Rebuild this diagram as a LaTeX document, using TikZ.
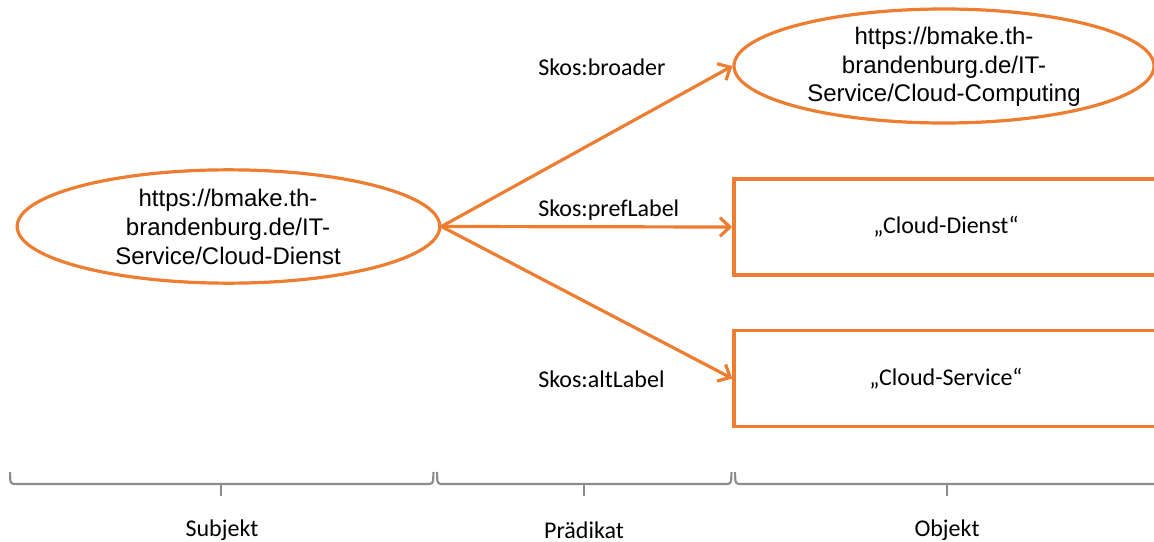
\documentclass[tikz,border=0pt]{standalone}
\usepackage{fontspec}
\setmainfont{Carlito}
\newfontfamily\arialfont{Liberation Sans}
\usetikzlibrary{shapes.geometric,arrows.meta}
\definecolor{orng}{HTML}{ED7D31}
\definecolor{brgray}{HTML}{8C8C8C}
\begin{document}
\begin{tikzpicture}[x=0.75pt,y=-0.75pt,
  res/.style={draw=orng,line width=2.4pt,ellipse,inner sep=0pt},
  lit/.style={draw=orng,line width=2.6pt,rectangle,inner sep=0pt,minimum width=318pt,minimum height=72pt,font=\fontsize{18}{21}\selectfont},
  urltext/.style={align=center,font=\arialfont\fontsize{18}{21.5}\selectfont,inner sep=0pt},
  pred/.style={anchor=west,font=\fontsize{18}{21}\selectfont,inner sep=0pt},
  conn/.style={draw=orng,line width=2.4pt,-{Straight Barb[length=7.5pt,width=14pt,line width=2.4pt]}},
  brace/.style={draw=brgray,line width=1.6pt,rounded corners=2.5pt},
  part/.style={font=\fontsize{18}{21}\selectfont,inner sep=0pt}]
\useasboundingbox (0,0) rectangle (1154,542);

% subject
\node[res,minimum width=317pt,minimum height=85pt] (subj) at (228.5,226.5) {};
\node[urltext] (subjtext) at (228,227) {https://bmake.th-\\brandenburg.de/IT-\\Service/Cloud-Dienst};

% objects
\node[res,minimum width=315pt,minimum height=85.5pt] (obj1) at (944,66) {};
\node[urltext] (obj1text) at (944,67) {https://bmake.th-\\brandenburg.de/IT-\\Service/Cloud-Computing};
\node[lit] (obj2) at (946,227) {„Cloud-Dienst“};
\node[lit] (obj3) at (946,378.5) {„Cloud-Service“};

% predicates
\draw[conn] (subj.east) -- (obj1.west);
\draw[conn] (subj.east) -- (obj2.west);
\draw[conn] (subj.east) -- (obj3.west);
\node[pred] (p1) at (538,67) {Skos:broader};
\node[pred] (p2) at (538,210) {Skos:prefLabel};
\node[pred] (p3) at (538,379) {Skos:altLabel};

% braces
\draw[brace] (10,472) -- (10.5,484) -- (433,484) -- (433.5,472);
\draw[brgray,line width=1.6pt] (221,484) -- (221,496);
\draw[brace] (437,472) -- (437.5,484) -- (731,484) -- (731.5,472);
\draw[brgray,line width=1.6pt] (584,484) -- (584,496);
\draw[brace] (735,472) -- (735.5,484) -- (1170,484);
\draw[brgray,line width=1.6pt] (947,484) -- (947,496);

\node[part] (l1) at (222,530) {Subjekt};
\node[part] (l2) at (584,530) {Prädikat};
\node[part] (l3) at (947,530) {Objekt};
\end{tikzpicture}
\end{document}
